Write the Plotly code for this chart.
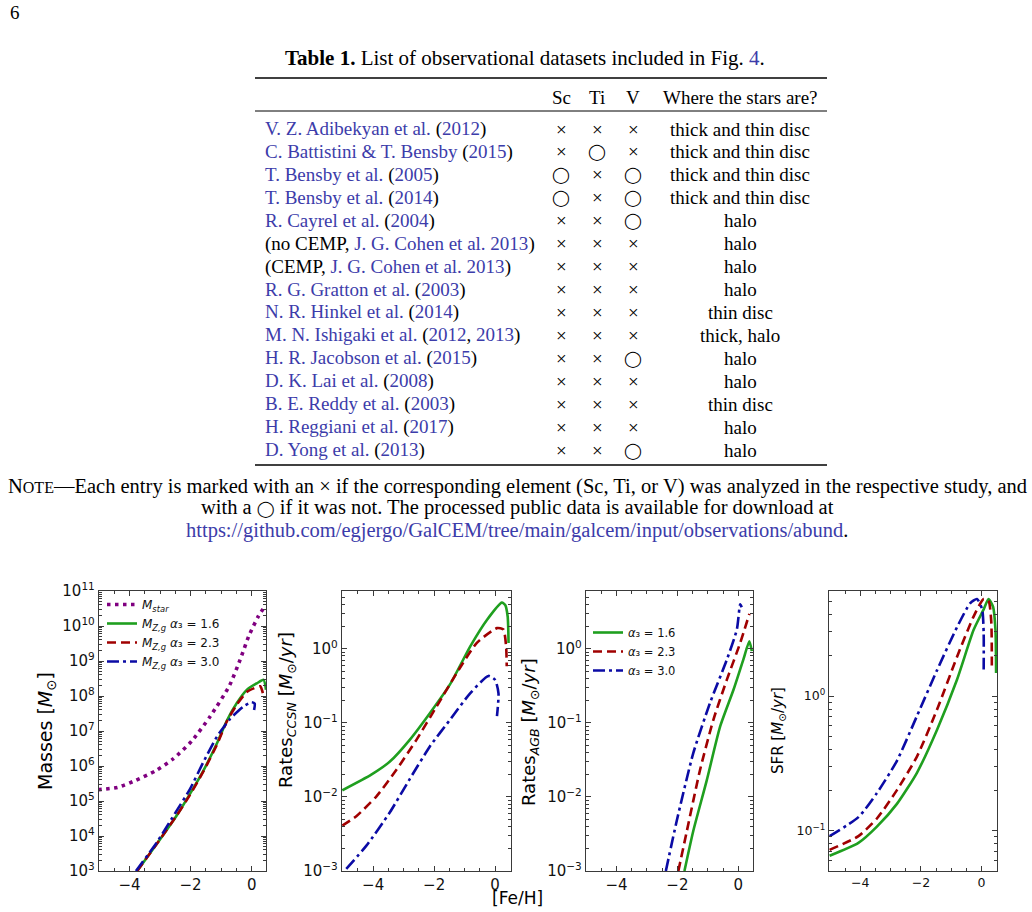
import plotly.graph_objects as go

# ---------------- DATA ----------------
# Table 1
CITE_AUTHORS = ["V. Z. Adibekyan et al.", "C. Battistini &amp; T. Bensby", "T. Bensby et al.",
                "T. Bensby et al.", "R. Cayrel et al.", "J. G. Cohen et al.", "J. G. Cohen et al.",
                "R. G. Gratton et al.", "N. R. Hinkel et al.", "M. N. Ishigaki et al.",
                "H. R. Jacobson et al.", "D. K. Lai et al.", "B. E. Reddy et al.",
                "H. Reggiani et al.", "D. Yong et al."]
CITE_YEARS = [["2012"], ["2015"], ["2005"], ["2014"], ["2004"], ["2013"], ["2013"], ["2003"],
              ["2014"], ["2012", "2013"], ["2015"], ["2008"], ["2003"], ["2017"], ["2013"]]
CITE_PREFIX = ["", "", "", "", "", "no CEMP", "CEMP", "", "", "", "", "", "", "", ""]
SC = ["x", "x", "o", "o", "x", "x", "x", "x", "x", "x", "x", "x", "x", "x", "x"]
TI = ["x", "o", "x", "x", "x", "x", "x", "x", "x", "x", "x", "x", "x", "x", "x"]
V = ["x", "x", "o", "o", "o", "x", "x", "x", "x", "x", "o", "x", "x", "x", "o"]
WHERE = ["thick and thin disc", "thick and thin disc", "thick and thin disc", "thick and thin disc",
         "halo", "halo", "halo", "halo", "thin disc", "thick, halo", "halo", "halo", "thin disc",
         "halo", "halo"]
HEADERS = ["Sc", "Ti", "V", "Where the stars are?"]

# Panel 1: Masses
MSTAR_FEH = [-5.03, -4.39, -3.79, -3.17, -2.57, -1.96, -1.36, -0.73, -0.38, -0.10, 0.22, 0.44]
MSTAR = [2.1e5, 2.45e5, 3.9e5, 7.1e5, 1.6e6, 5.2e6, 2.6e7, 1.95e8, 1.07e9, 5.0e9, 1.9e10, 3.7e10]
MZG16_FEH = [-3.75, -3.11, -2.46, -2.02, -1.58, -1.14, -0.81, -0.49, -0.16, 0.17, 0.39, 0.47]
MZG16 = [1.0e3, 5.9e3, 3.8e4, 1.6e5, 7.4e5, 4.4e6, 2.0e7, 6.2e7, 1.5e8, 2.3e8, 2.9e8, 1.5e8]
MZG23_FEH = [-3.75, -3.11, -2.46, -2.02, -1.58, -1.14, -0.81, -0.49, -0.16, 0.10, 0.28, 0.38]
MZG23 = [1.0e3, 5.9e3, 3.8e4, 1.5e5, 7.0e5, 4.0e6, 1.9e7, 5.6e7, 1.3e8, 1.7e8, 1.9e8, 1.1e8]
MZG30_FEH = [-3.79, -3.11, -2.46, -2.02, -1.58, -1.14, -0.71, -0.27, 0.00, 0.10, 0.08]
MZG30 = [1.0e3, 6.5e3, 5.2e4, 2.2e5, 1.3e6, 6.8e6, 2.2e7, 5.0e7, 6.6e7, 6.0e7, 4.0e7]

# Panel 2: CCSN rates
CC16_FEH = [-5.01, -4.06, -3.45, -2.80, -2.14, -1.48, -0.82, -0.27, 0.22, 0.33, 0.41, 0.44]
CC16 = [0.0123, 0.020, 0.030, 0.059, 0.135, 0.33, 1.07, 2.45, 4.2, 3.9, 2.75, 1.2]
CC23_FEH = [-5.01, -4.55, -3.89, -3.23, -2.58, -1.92, -1.26, -0.60, 0.06, 0.27, 0.36, 0.38]
CC23 = [0.0041, 0.0055, 0.0102, 0.0234, 0.059, 0.166, 0.47, 1.2, 1.9, 1.82, 1.07, 0.58]
CC30_FEH = [-4.88, -4.22, -3.45, -2.80, -2.14, -1.48, -0.82, -0.22, 0.00, 0.11, 0.06]
CC30 = [0.00107, 0.0022, 0.0062, 0.0174, 0.048, 0.11, 0.25, 0.43, 0.38, 0.25, 0.123]

# Panel 3: AGB rates
AGB16_FEH = [-1.77, -1.48, -1.04, -0.60, -0.16, 0.16, 0.36, 0.44]
AGB16 = [0.001, 0.00347, 0.0166, 0.089, 0.28, 0.71, 1.26, 0.93]
AGB23_FEH = [-1.97, -1.69, -1.26, -0.82, -0.38, 0.06, 0.36]
AGB23 = [0.001, 0.00347, 0.0229, 0.11, 0.38, 1.2, 2.95]
AGB30_FEH = [-2.38, -2.02, -1.48, -0.93, -0.38, -0.05, 0.06, 0.11]
AGB30 = [0.001, 0.0048, 0.039, 0.186, 0.71, 1.82, 3.98, 3.63]

# Panel 4: SFR
SFR16_FEH = [-5.01, -4.06, -3.45, -2.79, -2.13, -1.47, -0.81, -0.26, 0.07, 0.23, 0.38, 0.46, 0.48]
SFR16 = [0.065, 0.081, 0.107, 0.158, 0.269, 0.56, 1.32, 3.1, 4.4, 5.25, 4.6, 3.1, 1.48]
SFR23_FEH = [-5.01, -4.06, -3.45, -2.79, -2.13, -1.47, -0.81, -0.26, 0.07, 0.23, 0.32, 0.34]
SFR23 = [0.072, 0.091, 0.123, 0.20, 0.355, 0.79, 1.95, 3.9, 5.25, 5.1, 3.6, 1.55]
SFR30_FEH = [-5.01, -4.06, -3.45, -2.79, -2.13, -1.47, -0.81, -0.37, -0.15, 0.02, 0.07, 0.07]
SFR30 = [0.091, 0.126, 0.19, 0.33, 0.71, 1.55, 3.24, 4.9, 5.25, 4.4, 2.95, 1.51]

# tick values / labels
XTICKS = [-4, -2, 0]
XTICKTEXT = ["−4", "−2", "0"]
Y1_EXP = [3, 4, 5, 6, 7, 8, 9, 10, 11]
Y2_EXP = [-3, -2, -1, 0]
Y3_EXP = [-3, -2, -1, 0]
Y4_EXP = [-1, 0]

# ---------------- STYLE ----------------
W, H = 1032, 912
GREEN, RED, BLUE, PURPLE = "#1f9f1f", "#a00000", "#0b0ba5", "#800080"
LINK = "#3c3caa"
SERIF = "Liberation Serif, DejaVu Serif, serif"
SANS = "DejaVu Sans, sans-serif"
AX = "#3a3a3a"
LW = 2.6
DASH = {"solid": "solid", "dash": "9px,5px", "dashdot": "12px,4px,3px,4px", "dot": "3.5px,4.5px"}
FS = 19
FS_NOTE = 20.5


def px(x):
    return x / W


def py(y):
    return 1 - y / H


fig = go.Figure()

panels = [(99, 266), (342, 511), (586, 753), (829, 997)]
ydom = [py(871), py(591)]


def add(x, y, color, dash, name, i, legend=None, show=False):
    fig.add_trace(go.Scatter(
        x=x, y=y, mode="lines", name=name, showlegend=show,
        legend=legend if legend else "legend",
        line=dict(color=color, width=LW if dash != "dot" else 3.6, dash=DASH[dash],
                  shape="spline", smoothing=0.6),
        xaxis=f"x{i}" if i > 1 else "x", yaxis=f"y{i}" if i > 1 else "y",
        hoverinfo="skip"))


lab16 = "<i>α</i>₃ = 1.6"
lab23 = "<i>α</i>₃ = 2.3"
lab30 = "<i>α</i>₃ = 3.0"
mz = "<i>M</i><sub><i>Z,g</i></sub> "
add(MSTAR_FEH, MSTAR, PURPLE, "dot", "<i>M</i><sub><i>star</i></sub>", 1, show=True)
add(MZG16_FEH, MZG16, GREEN, "solid", mz + lab16, 1, show=True)
add(MZG23_FEH, MZG23, RED, "dash", mz + lab23, 1, show=True)
add(MZG30_FEH, MZG30, BLUE, "dashdot", mz + lab30, 1, show=True)

add(CC16_FEH, CC16, GREEN, "solid", lab16, 2)
add(CC23_FEH, CC23, RED, "dash", lab23, 2)
add(CC30_FEH, CC30, BLUE, "dashdot", lab30, 2)

add(AGB16_FEH, AGB16, GREEN, "solid", lab16, 3, "legend2", True)
add(AGB23_FEH, AGB23, RED, "dash", lab23, 3, "legend2", True)
add(AGB30_FEH, AGB30, BLUE, "dashdot", lab30, 3, "legend2", True)

add(SFR16_FEH, SFR16, GREEN, "solid", lab16, 4)
add(SFR23_FEH, SFR23, RED, "dash", lab23, 4)
add(SFR30_FEH, SFR30, BLUE, "dashdot", lab30, 4)

xranges = [[-5.0, 0.47], [-5.02, 0.52], [-5.0, 0.48], [-5.03, 0.51]]
yranges = [[3, 11], [-3, 0.78], [-3, 0.78], [-1.30, 0.78]]
yexps = [Y1_EXP, Y2_EXP, Y3_EXP, Y4_EXP]
tickfs = [15, 15, 15, 12.5]


def sup(e):
    return "10<sup>" + (str(e) if e >= 0 else "−" + str(-e)) + "</sup>"


layout = {}
for k, ((x0, x1), xr, yr, fs, ye) in enumerate(zip(panels, xranges, yranges, tickfs, yexps), start=1):
    sfx = "" if k == 1 else str(k)
    common = dict(showline=True, linecolor=AX, linewidth=1.4, mirror="ticks", ticks="inside",
                  ticklen=5, tickwidth=1.2, tickcolor=AX, showgrid=False, zeroline=False,
                  automargin=False, tickfont=dict(family=SANS, size=fs, color="#111"))
    layout["xaxis" + sfx] = dict(domain=[px(x0), px(x1)], range=xr, anchor="y" + sfx,
                                 tickmode="array", tickvals=XTICKS, ticktext=XTICKTEXT,
                                 minor=dict(ticks="inside", ticklen=2.5, tickcolor=AX,
                                            dtick=0.5, tick0=0), **common)
    layout["yaxis" + sfx] = dict(domain=ydom, range=yr, type="log", anchor="x" + sfx,
                                 tickmode="array", tickvals=[10.0 ** e for e in ye],
                                 ticktext=[sup(e) for e in ye],
                                 minor=dict(ticks="inside", ticklen=2.5, tickcolor=AX, dtick="D1"),
                                 **common)
fig.update_layout(**layout)

fig.update_layout(
    template="none",
    width=W, height=H, margin=dict(l=0, r=0, t=0, b=0, autoexpand=False),
    paper_bgcolor="white", plot_bgcolor="white",
    legend=dict(x=px(102), y=py(590), xanchor="left", yanchor="top", bgcolor="rgba(0,0,0,0)",
                font=dict(family=SANS, size=12, color="#111"), tracegroupgap=0, itemwidth=30),
    legend2=dict(x=px(588), y=py(618), xanchor="left", yanchor="top", bgcolor="rgba(0,0,0,0)",
                 font=dict(family=SANS, size=11.5, color="#111"), tracegroupgap=0, itemwidth=30),
)

ann = []


def text(x, y, t, size=FS, xanchor="center", color="black", family=SERIF, angle=0):
    ann.append(dict(x=px(x), y=py(y), xref="paper", yref="paper", text=t, showarrow=False,
                    xanchor=xanchor, yanchor="middle", textangle=angle,
                    font=dict(family=family, size=size, color=color)))


# axis titles
text(46, 731, "Masses [<i>M</i><sub>⊙</sub>]", 19, family=SANS, angle=-90)
text(287, 710, "Rates<sub><i>CCSN</i></sub> [<i>M</i><sub>⊙</sub>/<i>yr</i>]", 18, family=SANS, angle=-90)
text(530, 732, "Rates<sub><i>AGB</i></sub> [<i>M</i><sub>⊙</sub>/<i>yr</i>]", 18, family=SANS, angle=-90)
text(778, 731, "SFR [<i>M</i><sub>⊙</sub>/<i>yr</i>]", 15, family=SANS, angle=-90)
text(517, 898, "[Fe/H]", 17, family=SANS)

# page number, table title
text(8, 13, "6", FS, xanchor="left")
text(525, 58, "<b>Table 1.</b> List of observational datasets included in Fig. "
     f"<span style='color:{LINK}'>4</span>.", 21)

# table
COLX = [561, 597, 633, 740]
ROW0, ROWH = 129, 22.93
for j, h in enumerate(HEADERS):
    text(COLX[j], 97, h)

CIRCLE = "<span style='font-family:DejaVu Sans;font-size:16px'>◯</span>"


def mark(m):
    return "×" if m == "x" else CIRCLE


def blue(s):
    return f"<span style='color:{LINK}'>{s}</span>"


for i in range(len(CITE_AUTHORS)):
    y = ROW0 + i * ROWH
    if CITE_PREFIX[i]:
        name = f"({CITE_PREFIX[i]}, " + blue(CITE_AUTHORS[i] + " " + ", ".join(CITE_YEARS[i])) + ")"
    else:
        name = blue(CITE_AUTHORS[i]) + " (" + ", ".join(blue(yv) for yv in CITE_YEARS[i]) + ")"
    text(263, y, name, xanchor="left")
    for j, col in enumerate([SC, TI, V]):
        text(COLX[j], y, mark(col[i]))
    text(COLX[3], y, WHERE[i])

# rules
shapes = [
    dict(type="line", xref="paper", yref="paper", x0=px(255), x1=px(827), y0=py(78), y1=py(78),
         line=dict(color="black", width=1.6)),
    dict(type="line", xref="paper", yref="paper", x0=px(255), x1=px(827), y0=py(111), y1=py(111),
         line=dict(color="black", width=1)),
    dict(type="line", xref="paper", yref="paper", x0=px(255), x1=px(827), y0=py(465), y1=py(465),
         line=dict(color="black", width=1.6)),
]

# note
text(517, 487, "N<span style='font-size:16px'>OTE</span>—Each entry is marked with an × if the "
     "corresponding element (Sc, Ti, or V) was analyzed in the respective study, and", FS_NOTE)
text(517, 508, f"with a {CIRCLE} if it was not. "
     "The processed public data is available for download at", FS_NOTE)
text(517, 530, blue("https://github.com/egjergo/GalCEM/tree/main/galcem/"
                    "input/observations/abund") + ".", FS_NOTE)

fig.update_layout(annotations=ann, shapes=shapes)
fig.write_html("out.html")
